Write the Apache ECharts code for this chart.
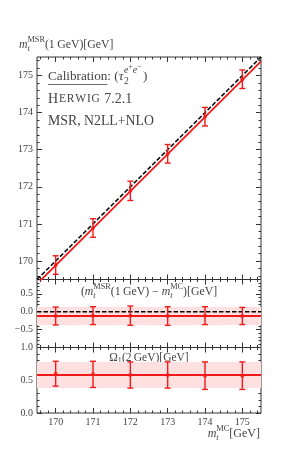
<!DOCTYPE html>
<html><head><meta charset="utf-8">
<script src="https://cdn.jsdelivr.net/npm/echarts@6/dist/echarts.min.js"></script>
<style>html,body{margin:0;padding:0;background:#fff}#c{width:291px;height:465px}</style>
</head><body><div id="c"></div>
<script>
// ---- data ----
const mcMass = [170, 171, 172, 173, 174, 175];
const msrMass = [169.89, 170.89, 171.89, 172.89, 173.89, 174.90];
const msrErr = [0.25, 0.25, 0.26, 0.25, 0.25, 0.25];
const diffVals = [-0.12, -0.11, -0.11, -0.12, -0.11, -0.12];
const diffErr = [0.25, 0.25, 0.27, 0.26, 0.25, 0.24];
const omegaVals = [0.60, 0.59, 0.58, 0.58, 0.57, 0.57];
const omegaErr = [0.19, 0.20, 0.20, 0.20, 0.21, 0.21];
const fitDiff = -0.12;
const diffBand = [-0.37, 0.13];
const fitOmega = 0.58;
const omegaBand = [0.38, 0.78];
// axes
const xRange = [169.5, 175.5];
const mainRange = [169.5, 175.5];
const diffRange = [-1, 0.9];
const omegaRange = [0, 1];
const xMajor = [170, 171, 172, 173, 174, 175];
const mainYMajor = [170, 171, 172, 173, 174, 175];
const diffYMajor = [-1, -0.5, 0, 0.5];
const diffYLabels = [-0.5, 0, 0.5];
const omegaYMajor = [0, 0.5, 1];

function minors(r, step, majors) {
  const out = [];
  const n0 = Math.ceil(r[0] / step - 1e-9), n1 = Math.floor(r[1] / step + 1e-9);
  for (let n = n0; n <= n1; n++) {
    const v = Math.round(n * step * 1000) / 1000;
    if (!majors.some(m => Math.abs(m - v) < 1e-6)) out.push(v);
  }
  return out;
}

const RED = '#f01a1a', BAND = '#ffe0e0', AX = '#333', TXT = '#444';
const FAM = '"Liberation Serif", "DejaVu Serif", serif';
const L = 37, W = 224;
const grids = [
  {left: L, width: W, top: 57, height: 222.5},
  {left: L, width: W, top: 279.5, height: 68},
  {left: L, width: W, top: 347.5, height: 65.5}
].map(g => Object.assign(g, {show: true, borderColor: AX, borderWidth: 1, backgroundColor: 'transparent'}));

const fmt = v => { const s = Math.abs(v).toFixed(1); return v < -1e-9 ? '\u2212' + s : s; };

function axisCommon(range, vals, len, labelVals, formatter, extra) {
  return Object.assign({
    type: 'value', min: range[0], max: range[1],
    axisLine: {show: false, onZero: false},
    splitLine: {show: false},
    axisTick: {show: true, inside: true, length: len, customValues: vals, lineStyle: {color: AX, width: 1}},
    axisLabel: labelVals ? {show: true, customValues: labelVals, formatter: formatter,
      color: TXT, fontFamily: FAM, fontSize: 10, margin: 4} : {show: false}
  }, extra);
}

const xAxes = [], yAxes = [];
const yInfo = [
  [mainRange, mainYMajor, minors(mainRange, 0.2, mainYMajor), mainYMajor, v => String(Math.round(v))],
  [diffRange, diffYMajor, minors(diffRange, 0.1, diffYMajor), diffYLabels, fmt],
  [omegaRange, omegaYMajor, minors(omegaRange, 0.1, omegaYMajor), omegaYMajor, fmt]
];
const xMinor = minors(xRange, 0.2, xMajor);
for (let g = 0; g < 3; g++) {
  xAxes.push(axisCommon(xRange, xMajor, 5, g === 2 ? xMajor : null, v => String(Math.round(v)), {gridIndex: g, position: 'bottom'}));
  xAxes.push(axisCommon(xRange, xMajor, 5, null, null, {gridIndex: g, position: 'top'}));
  xAxes.push(axisCommon(xRange, xMinor, 2.5, null, null, {gridIndex: g, position: 'bottom'}));
  xAxes.push(axisCommon(xRange, xMinor, 2.5, null, null, {gridIndex: g, position: 'top'}));
  const [r, maj, mn, lab, f] = yInfo[g];
  yAxes.push(axisCommon(r, maj, 5, lab, f, {gridIndex: g, position: 'left'}));
  yAxes.push(axisCommon(r, maj, 5, null, null, {gridIndex: g, position: 'right'}));
  yAxes.push(axisCommon(r, mn, 2.5, null, null, {gridIndex: g, position: 'left'}));
  yAxes.push(axisCommon(r, mn, 2.5, null, null, {gridIndex: g, position: 'right'}));
}

function errRender(params, api) {
  const x = api.value(0), y = api.value(1), e = api.value(2);
  const t = api.coord([x, y + e]), b = api.coord([x, y - e]);
  const cap = 3, st = {stroke: RED, lineWidth: 1.4};
  return {type: 'group', children: [
    {type: 'line', shape: {x1: t[0], y1: t[1], x2: b[0], y2: b[1]}, style: st},
    {type: 'line', shape: {x1: t[0] - cap, y1: t[1], x2: t[0] + cap, y2: t[1]}, style: st},
    {type: 'line', shape: {x1: b[0] - cap, y1: b[1], x2: b[0] + cap, y2: b[1]}, style: st}
  ]};
}

function panelSeries(g, vals, errs, fitLine, refLine, band) {
  const ax = {xAxisIndex: 4 * g, yAxisIndex: 4 * g};
  const s = [];
  if (band) s.push(Object.assign({type: 'line', data: [], z: 1, silent: true,
    markArea: {silent: true, itemStyle: {color: BAND}, data: [[{yAxis: band[0]}, {yAxis: band[1]}]]}}, ax));
  s.push(Object.assign({type: 'line', data: refLine, symbol: 'none', z: 3, silent: true,
    lineStyle: {color: '#000', width: 1.5, type: [4.5, 2]}}, ax));
  s.push(Object.assign({type: 'line', data: fitLine, symbol: 'none', z: 4, silent: true,
    lineStyle: {color: RED, width: 1.8}}, ax));
  s.push(Object.assign({type: 'custom', renderItem: errRender, z: 5, silent: true,
    data: mcMass.map((m, i) => [m, vals[i], errs[i]])}, ax));
  s.push(Object.assign({type: 'scatter', symbolSize: 4, z: 6, silent: true, itemStyle: {color: RED},
    data: mcMass.map((m, i) => [m, vals[i]])}, ax));
  return s;
}

const series = [].concat(
  panelSeries(0, msrMass, msrErr, xRange.map(v => [v, v + fitDiff]), xRange.map(v => [v, v]), null),
  panelSeries(1, diffVals, diffErr, xRange.map(v => [v, fitDiff]), xRange.map(v => [v, 0]), diffBand),
  panelSeries(2, omegaVals, omegaErr, xRange.map(v => [v, fitOmega]), [], omegaBand)
);

// ---- math-ish text layout ----
const mctx = document.createElement('canvas').getContext('2d');
function pfont(p, S) { return (p.i ? 'italic ' : '') + (S * (p.s || 1)).toFixed(2) + 'px ' + FAM; }
function pw(p, S) { mctx.font = pfont(p, S); return mctx.measureText(p.t).width + (p.g || 0) * S; }
function mtext(x, y, parts, S, align) {
  const items = []; let cx = 0;
  parts.forEach(p => {
    if (p.stack) {
      let mw = 0;
      p.stack.forEach(seq => {
        let sx = cx;
        seq.forEach(q => { items.push({p: q, x: sx}); sx += pw(q, S); });
        mw = Math.max(mw, sx - cx);
      });
      cx += mw;
    } else { items.push({p, x: cx}); cx += pw(p, S); }
  });
  const x0 = align === 'right' ? x - cx : align === 'center' ? x - cx / 2 : x;
  return items.map(it => ({type: 'text', silent: true, x: x0 + it.x, y: y + (it.p.dy || 0) * S,
    style: {text: it.p.t, font: pfont(it.p, S), fill: TXT, align: 'left', verticalAlign: 'middle'}}));
}
const sub_t = [{t: 't', i: 1, s: 0.7, dy: 0.32}];
const sup = s => [{t: s, s: 0.7, dy: -0.42}];

const gfx = [];
gfx.push(...mtext(19, 45, [{t: 'm', i: 1}, {stack: [sub_t, sup('MSR')]}, {t: '(1\u2009GeV)[GeV]'}], 11.8, 'left'));
const S1 = 13.2;
gfx.push(...mtext(48, 77, [{t: 'Calibration'}, {t: ': ('}, {t: '\u03c4', i: 1, g: 0.05},
  {stack: [[{t: '2', s: 0.72, dy: 0.32}],
    [{t: 'e', i: 1, s: 0.75, dy: -0.48}, {t: '+', s: 0.58, dy: -0.78}, {t: 'e', i: 1, s: 0.75, dy: -0.48}, {t: '\u2212', s: 0.58, dy: -0.78, g: 0.12}]]},
  {t: ')'}], S1, 'left'));
const calW = pw({t: 'Calibration'}, S1);
gfx.push({type: 'line', silent: true, shape: {x1: 48, y1: 84.5, x2: 48 + calW, y2: 84.5}, style: {stroke: TXT, lineWidth: 0.8}});
gfx.push(...mtext(48, 99, [{t: 'H', g: 0.06}, {t: 'E', s: 0.82, g: 0.06}, {t: 'R', s: 0.82, g: 0.06}, {t: 'W', s: 0.82, g: 0.06},
  {t: 'I', s: 0.82, g: 0.06}, {t: 'G', s: 0.82, g: 0.06}, {t: ' 7.2.1'}], 14, 'left'));
gfx.push(...mtext(48, 121, [{t: 'MSR, N2LL+NLO'}], 13.8, 'left'));
gfx.push(...mtext(149, 292, [{t: '('}, {t: 'm', i: 1}, {stack: [sub_t, sup('MSR')]}, {t: '(1\u2009GeV) \u2212 '},
  {t: 'm', i: 1}, {stack: [sub_t, sup('MC')]}, {t: ')[GeV]'}], 11.8, 'center'));
gfx.push(...mtext(149, 357.5, [{t: '\u03a9'}, {t: '1', s: 0.7, dy: 0.3}, {t: '(2\u2009GeV)[GeV]'}], 11.5, 'center'));
gfx.push(...mtext(260, 434, [{t: 'm', i: 1}, {stack: [sub_t, sup('MC')]}, {t: '[GeV]'}], 12, 'right'));

const chart = echarts.init(document.getElementById('c'), null, {renderer: 'canvas'});
chart.setOption({
  backgroundColor: '#fff',
  animation: false,
  grid: grids,
  xAxis: xAxes,
  yAxis: yAxes,
  series: series,
  graphic: gfx
});
</script></body></html>
